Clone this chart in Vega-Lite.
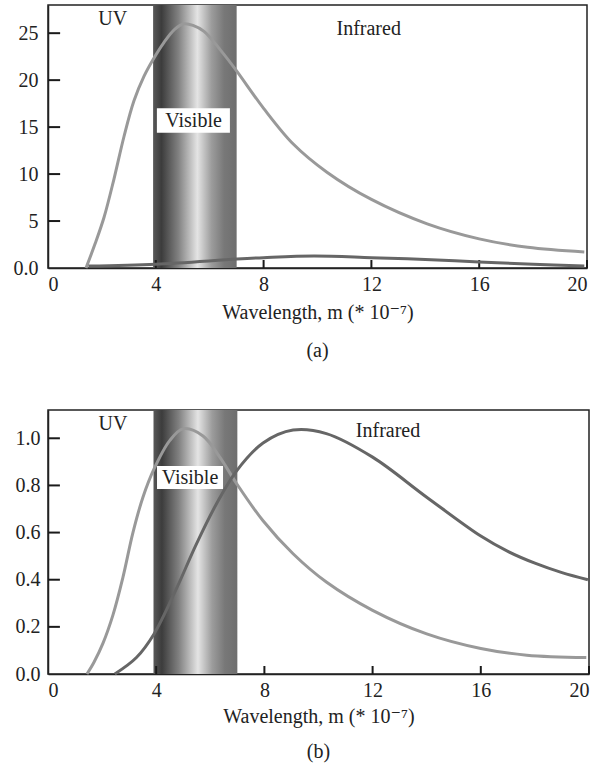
{
  "$schema": "https://vega.github.io/schema/vega-lite/v6.json",
  "padding": {"left": 12, "top": 4, "right": 8, "bottom": 5},
  "spacing": 47,
  "config": {
    "font": "'Liberation Serif', 'DejaVu Serif', serif",
    "view": {"stroke": "#222222", "strokeWidth": 1.5},
    "axis": {
      "labelFont": "'Liberation Serif', 'DejaVu Serif', serif", "labelFontSize": 20, "labelColor": "#222222",
      "titleFont": "'Liberation Serif', 'DejaVu Serif', serif", "titleFontSize": 20, "titleFontWeight": "normal", "titleColor": "#222222",
      "domainColor": "#222222", "domainWidth": 1.5, "ticks": false,
      "grid": false
    },
    "title": {"font": "'Liberation Serif', 'DejaVu Serif', serif", "fontSize": 20, "fontWeight": "normal", "color": "#222222", "orient": "bottom", "anchor": "middle"},
    "text": {"font": "'Liberation Serif', 'DejaVu Serif', serif", "fontSize": 20, "color": "#222222"}
  },
  "datasets": {
    "bandA": [{"x1": 3.9, "x2": 7.0}],
    "boxA": [{"x1": 4.04, "x2": 6.75, "y1": 14.4, "y2": 17.0}],
    "xticks": [{"v": 4}, {"v": 8}, {"v": 12}, {"v": 16}, {"v": 20}],
    "yticksA": [{"v": 5}, {"v": 10}, {"v": 15}, {"v": 20}, {"v": 25}],
    "yticksB": [{"v": 0.2}, {"v": 0.4}, {"v": 0.6}, {"v": 0.8}, {"v": 1.0}],
    "labelsA": [
      {"label": "UV", "x": 2.4, "y": 26.5},
      {"label": "Infrared", "x": 11.9, "y": 25.4},
      {"label": "Visible", "x": 5.4, "y": 15.6}
    ],
    "curvesA": [
      {"series": "light", "x": 1.41, "y": 0},
      {"series": "light", "x": 1.75, "y": 2.6},
      {"series": "light", "x": 2.08, "y": 5.4},
      {"series": "light", "x": 2.45, "y": 9.5},
      {"series": "light", "x": 2.82, "y": 14.0},
      {"series": "light", "x": 3.19, "y": 17.8},
      {"series": "light", "x": 3.56, "y": 20.4},
      {"series": "light", "x": 3.9, "y": 22.2},
      {"series": "light", "x": 4.3, "y": 24.0},
      {"series": "light", "x": 4.7, "y": 25.4},
      {"series": "light", "x": 5.05, "y": 26.0},
      {"series": "light", "x": 5.4, "y": 25.8},
      {"series": "light", "x": 5.79, "y": 25.2},
      {"series": "light", "x": 6.4, "y": 23.2},
      {"series": "light", "x": 6.97, "y": 21.1},
      {"series": "light", "x": 8.0, "y": 17.0},
      {"series": "light", "x": 9.1, "y": 13.2},
      {"series": "light", "x": 10.35, "y": 10.2},
      {"series": "light", "x": 12.0, "y": 7.3},
      {"series": "light", "x": 14.07, "y": 4.7},
      {"series": "light", "x": 16.0, "y": 3.1},
      {"series": "light", "x": 17.8, "y": 2.2},
      {"series": "light", "x": 19.9, "y": 1.7},
      {"series": "dark", "x": 1.5, "y": 0.2},
      {"series": "dark", "x": 4.0, "y": 0.4},
      {"series": "dark", "x": 7.0, "y": 0.95},
      {"series": "dark", "x": 8.0, "y": 1.1},
      {"series": "dark", "x": 9.87, "y": 1.28},
      {"series": "dark", "x": 12.0, "y": 1.1},
      {"series": "dark", "x": 14.0, "y": 0.9},
      {"series": "dark", "x": 16.0, "y": 0.64},
      {"series": "dark", "x": 18.0, "y": 0.4},
      {"series": "dark", "x": 19.9, "y": 0.2}
    ],
    "bandB": [{"x1": 3.9, "x2": 7.0}],
    "boxB": [{"x1": 4.03, "x2": 6.47, "y1": 0.785, "y2": 0.882}],
    "labelsB": [
      {"label": "UV", "x": 2.4, "y": 1.06},
      {"label": "Infrared", "x": 12.57, "y": 1.03},
      {"label": "Visible", "x": 5.25, "y": 0.833}
    ],
    "curvesB": [
      {"series": "light", "x": 1.44, "y": 0.0},
      {"series": "light", "x": 1.7, "y": 0.05},
      {"series": "light", "x": 2.03, "y": 0.13},
      {"series": "light", "x": 2.4, "y": 0.25},
      {"series": "light", "x": 2.77, "y": 0.41},
      {"series": "light", "x": 3.14, "y": 0.6},
      {"series": "light", "x": 3.51, "y": 0.75},
      {"series": "light", "x": 3.92, "y": 0.87},
      {"series": "light", "x": 4.5, "y": 0.99},
      {"series": "light", "x": 4.99, "y": 1.04},
      {"series": "light", "x": 5.73, "y": 1.01},
      {"series": "light", "x": 6.35, "y": 0.92},
      {"series": "light", "x": 6.96, "y": 0.81},
      {"series": "light", "x": 7.95, "y": 0.65},
      {"series": "light", "x": 9.06, "y": 0.51},
      {"series": "light", "x": 10.29, "y": 0.39},
      {"series": "light", "x": 12.0, "y": 0.27},
      {"series": "light", "x": 14.0, "y": 0.17},
      {"series": "light", "x": 16.0, "y": 0.108},
      {"series": "light", "x": 17.7, "y": 0.08},
      {"series": "light", "x": 19.9, "y": 0.07},
      {"series": "dark", "x": 2.47, "y": 0.0},
      {"series": "dark", "x": 3.27, "y": 0.07},
      {"series": "dark", "x": 3.92, "y": 0.17},
      {"series": "dark", "x": 4.74, "y": 0.36},
      {"series": "dark", "x": 5.48, "y": 0.55},
      {"series": "dark", "x": 6.22, "y": 0.72},
      {"series": "dark", "x": 6.96, "y": 0.86},
      {"series": "dark", "x": 7.95, "y": 0.98},
      {"series": "dark", "x": 9.06, "y": 1.035},
      {"series": "dark", "x": 10.29, "y": 1.02},
      {"series": "dark", "x": 12.0, "y": 0.92},
      {"series": "dark", "x": 14.0, "y": 0.75},
      {"series": "dark", "x": 16.0, "y": 0.585},
      {"series": "dark", "x": 17.0, "y": 0.52},
      {"series": "dark", "x": 18.0, "y": 0.47},
      {"series": "dark", "x": 19.0, "y": 0.43},
      {"series": "dark", "x": 19.96, "y": 0.40}
    ]
  },
  "vconcat": [
    {
      "width": 539,
      "height": 263,
      "title": {"text": "(a)", "offset": 19},
      "layer": [
        {
          "data": {"name": "bandA"},
          "mark": {"type": "rect", "fill": {"gradient": "linear", "x1": 0, "y1": 0, "x2": 1, "y2": 0, "stops": [
            {"offset": 0, "color": "#585858"},
            {"offset": 0.1, "color": "#3c3c3c"},
            {"offset": 0.3, "color": "#808080"},
            {"offset": 0.53, "color": "#e4e4e4"},
            {"offset": 0.7, "color": "#9c9c9c"},
            {"offset": 0.85, "color": "#787878"},
            {"offset": 1, "color": "#6e6e6e"}
          ]}},
          "encoding": {
            "x": {"field": "x1", "type": "quantitative", "scale": {"domain": [0, 20], "nice": false},
              "axis": {"values": [0, 4, 8, 12, 16, 20], "labelPadding": 6, "title": "Wavelength, m (* 10⁻⁷)", "titlePadding": 8}},
            "x2": {"field": "x2"},
            "y": {"datum": 0, "type": "quantitative", "scale": {"domain": [0, 28], "nice": false},
              "axis": {"values": [0, 5, 10, 15, 20, 25], "labelPadding": 10, "title": null,
                "labelExpr": "datum.value == 0 ? '0.0' : datum.label"}},
            "y2": {"datum": 28}
          }
        },
        {
          "data": {"name": "boxA"},
          "mark": {"type": "rect", "fill": "white"},
          "encoding": {
            "x": {"field": "x1", "type": "quantitative"},
            "x2": {"field": "x2"},
            "y": {"field": "y1", "type": "quantitative"},
            "y2": {"field": "y2"}
          }
        },
        {
          "data": {"name": "xticks"},
          "mark": {"type": "rule", "color": "#1a1a1a", "strokeWidth": 2},
          "encoding": {
            "x": {"field": "v", "type": "quantitative"},
            "y": {"datum": 0, "type": "quantitative"},
            "y2": {"datum": 0.85}
          }
        },
        {
          "data": {"name": "yticksA"},
          "mark": {"type": "rule", "color": "#1a1a1a", "strokeWidth": 2},
          "encoding": {
            "y": {"field": "v", "type": "quantitative"},
            "x": {"datum": 0, "type": "quantitative"},
            "x2": {"datum": 0.45}
          }
        },
        {
          "data": {"name": "curvesA"},
          "mark": {"type": "line", "strokeWidth": 3, "interpolate": "catmull-rom"},
          "encoding": {
            "x": {"field": "x", "type": "quantitative"},
            "y": {"field": "y", "type": "quantitative"},
            "color": {"field": "series", "type": "nominal", "scale": {"domain": ["light", "dark"], "range": ["#999999", "#666666"]}, "legend": null}
          }
        },
        {
          "data": {"name": "labelsA"},
          "mark": {"type": "text"},
          "encoding": {
            "x": {"field": "x", "type": "quantitative"},
            "y": {"field": "y", "type": "quantitative"},
            "text": {"field": "label"}
          }
        }
      ]
    },
    {
      "width": 541,
      "height": 264,
      "title": {"text": "(b)", "offset": 16},
      "layer": [
        {
          "data": {"name": "bandB"},
          "mark": {"type": "rect", "fill": {"gradient": "linear", "x1": 0, "y1": 0, "x2": 1, "y2": 0, "stops": [
            {"offset": 0, "color": "#585858"},
            {"offset": 0.1, "color": "#3c3c3c"},
            {"offset": 0.3, "color": "#808080"},
            {"offset": 0.53, "color": "#e4e4e4"},
            {"offset": 0.7, "color": "#9c9c9c"},
            {"offset": 0.85, "color": "#787878"},
            {"offset": 1, "color": "#6e6e6e"}
          ]}},
          "encoding": {
            "x": {"field": "x1", "type": "quantitative", "scale": {"domain": [0, 20], "nice": false},
              "axis": {"values": [0, 4, 8, 12, 16, 20], "labelPadding": 6, "title": "Wavelength, m (* 10⁻⁷)", "titlePadding": 6}},
            "x2": {"field": "x2"},
            "y": {"datum": 0, "type": "quantitative", "scale": {"domain": [0, 1.12], "nice": false},
              "axis": {"values": [0, 0.2, 0.4, 0.6, 0.8, 1.0], "labelPadding": 8, "title": null, "format": ".1f"}},
            "y2": {"datum": 1.12}
          }
        },
        {
          "data": {"name": "boxB"},
          "mark": {"type": "rect", "fill": "white"},
          "encoding": {
            "x": {"field": "x1", "type": "quantitative"},
            "x2": {"field": "x2"},
            "y": {"field": "y1", "type": "quantitative"},
            "y2": {"field": "y2"}
          }
        },
        {
          "data": {"name": "xticks"},
          "mark": {"type": "rule", "color": "#1a1a1a", "strokeWidth": 2},
          "encoding": {
            "x": {"field": "v", "type": "quantitative"},
            "y": {"datum": 0, "type": "quantitative"},
            "y2": {"datum": 0.034}
          }
        },
        {
          "data": {"name": "yticksB"},
          "mark": {"type": "rule", "color": "#1a1a1a", "strokeWidth": 2},
          "encoding": {
            "y": {"field": "v", "type": "quantitative"},
            "x": {"datum": 0, "type": "quantitative"},
            "x2": {"datum": 0.44}
          }
        },
        {
          "data": {"name": "curvesB"},
          "mark": {"type": "line", "strokeWidth": 3, "interpolate": "catmull-rom"},
          "encoding": {
            "x": {"field": "x", "type": "quantitative"},
            "y": {"field": "y", "type": "quantitative"},
            "color": {"field": "series", "type": "nominal", "scale": {"domain": ["light", "dark"], "range": ["#999999", "#666666"]}, "legend": null}
          }
        },
        {
          "data": {"name": "labelsB"},
          "mark": {"type": "text"},
          "encoding": {
            "x": {"field": "x", "type": "quantitative"},
            "y": {"field": "y", "type": "quantitative"},
            "text": {"field": "label"}
          }
        }
      ]
    }
  ]
}
